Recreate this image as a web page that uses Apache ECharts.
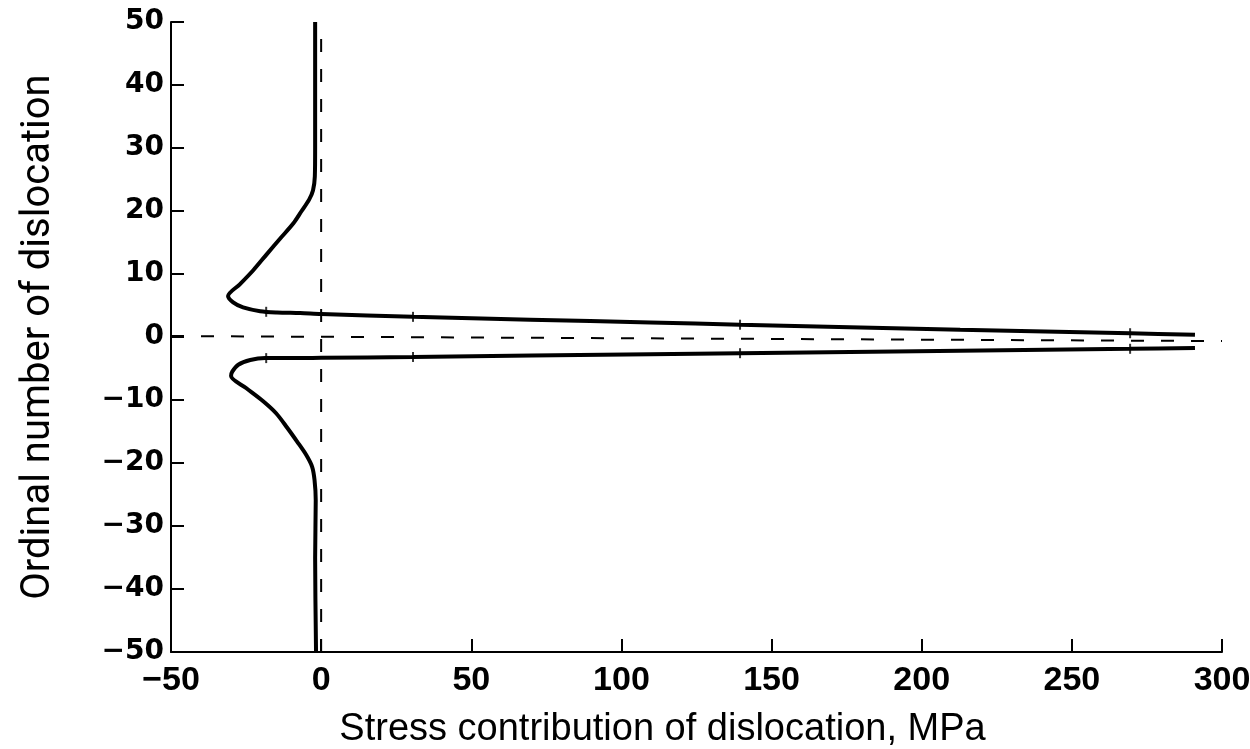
<!DOCTYPE html>
<html><head><meta charset="utf-8">
<script src="https://cdn.jsdelivr.net/npm/echarts@6/dist/echarts.min.js"></script>
<style>html,body{margin:0;padding:0;background:#fff}#c{width:1250px;height:749px}</style>
</head><body><div id="c"></div>
<script>
// ---- data ----
const xAxisTitle = 'Stress contribution of dislocation, MPa';
const yAxisTitle = 'Ordinal number of dislocation';
const xRange = [-50, 300];
const xStep = 50;
const yRange = [-50, 50];
const yStep = 10;

// upper branch (positive ordinals), traced from the top down and out along the pile-up
const upperBranch = [
  [-2.0, 50], [-2.0, 40], [-2.0, 30], [-2.1, 25.5], [-2.7, 23.3], [-4.0, 21.8],
  [-6.5, 20.0], [-9.3, 18.0], [-13.7, 15.6], [-18.0, 13.2], [-22.6, 10.6],
  [-27.0, 8.4], [-31.0, 6.5], [-29.3, 5.5], [-26.0, 4.7], [-20.3, 4.1], [-14.7, 3.9],
  [-7.0, 3.8], [0, 3.65], [30.6, 3.2], [69.6, 2.75], [109.6, 2.3], [139.5, 1.95],
  [176, 1.55], [212.8, 1.15], [269.4, 0.6], [291, 0.35]
];
// lower branch (negative ordinals), traced from the pile-up tip back and down
const lowerBranch = [
  [291, -1.75], [269.4, -1.87], [212.8, -2.17], [139.5, -2.57], [109.6, -2.73],
  [30.6, -3.17], [0, -3.3], [-7, -3.35], [-18.6, -3.35], [-23.6, -3.65],
  [-27.6, -4.4], [-29.6, -5.5], [-30.0, -6.2], [-25.0, -8.1], [-19.3, -10.2],
  [-15.0, -12.1], [-11.3, -14.4], [-8.0, -16.6], [-5.0, -18.7], [-3.0, -20.6],
  [-2.2, -22.7], [-1.8, -25.9], [-2.0, -35], [-1.7, -50]
];
// small tick marks sitting on the curves
const dislocationMarks = [
  [-18.3, 4.0], [30.6, 3.2], [139.5, 1.95], [269.4, 0.6],
  [-18.3, -3.35], [30.6, -3.17], [139.5, -2.57], [269.4, -1.87]
];
// dashed reference lines
const zeroStressLine = [[0, -50], [0, 50]];
const zeroOrdinalLine = [[-50, 0.15], [300, -0.65]];

// ---- chart ----
const minus = v => (v < 0 ? '\u2212' + Math.abs(v) : String(v));
const chart = echarts.init(document.getElementById('c'), null, {renderer: 'canvas'});
const dashed = {color: '#000', width: 2, type: [13, 17]};

chart.setOption({
  animation: false,
  backgroundColor: '#fff',
  grid: {left: 171, right: 28, top: 22, bottom: 97, outerBoundsMode: 'none', containLabel: false},
  xAxis: {
    type: 'value', min: xRange[0], max: xRange[1], interval: xStep,
    axisLine: {show: true, onZero: false, lineStyle: {color: '#000', width: 2}},
    axisTick: {show: true, inside: true, length: 13, lineStyle: {color: '#000', width: 2}},
    splitLine: {show: false},
    axisLabel: {
      formatter: minus, color: '#000', fontFamily: 'Liberation Sans',
      fontWeight: 'bold', fontSize: 34, margin: 12
    },
    name: xAxisTitle, nameLocation: 'middle', nameGap: 59,
    nameTextStyle: {
      color: '#000', fontFamily: 'Liberation Sans', fontSize: 38,
      padding: [0, 68, 0, 0]
    }
  },
  yAxis: {
    type: 'value', min: yRange[0], max: yRange[1], interval: yStep,
    axisLine: {show: true, onZero: false, lineStyle: {color: '#000', width: 2}},
    axisTick: {show: true, inside: true, length: 13, lineStyle: {color: '#000', width: 2}},
    splitLine: {show: false},
    axisLabel: {
      formatter: minus, color: '#000', fontFamily: 'DejaVu Sans',
      fontWeight: 'bold', fontSize: 28, margin: 7
    },
    name: yAxisTitle, nameLocation: 'middle', nameGap: 112,
    nameTextStyle: {
      color: '#000', fontFamily: 'Roboto', fontSize: 40
    }
  },
  series: [
    {type: 'line', data: zeroStressLine, symbol: 'none', silent: true, lineStyle: dashed, z: 1},
    {type: 'line', data: zeroOrdinalLine, symbol: 'none', silent: true, lineStyle: dashed, z: 1},
    {type: 'line', data: upperBranch, symbol: 'none', smooth: 0.3,
     lineStyle: {color: '#000', width: 4}, z: 3},
    {type: 'line', data: lowerBranch, symbol: 'none', smooth: 0.3,
     lineStyle: {color: '#000', width: 4}, z: 3},
    {type: 'scatter', data: dislocationMarks, symbol: 'rect', symbolSize: [2, 10],
     itemStyle: {color: '#000'}, z: 4}
  ]
});
</script>
</body></html>
